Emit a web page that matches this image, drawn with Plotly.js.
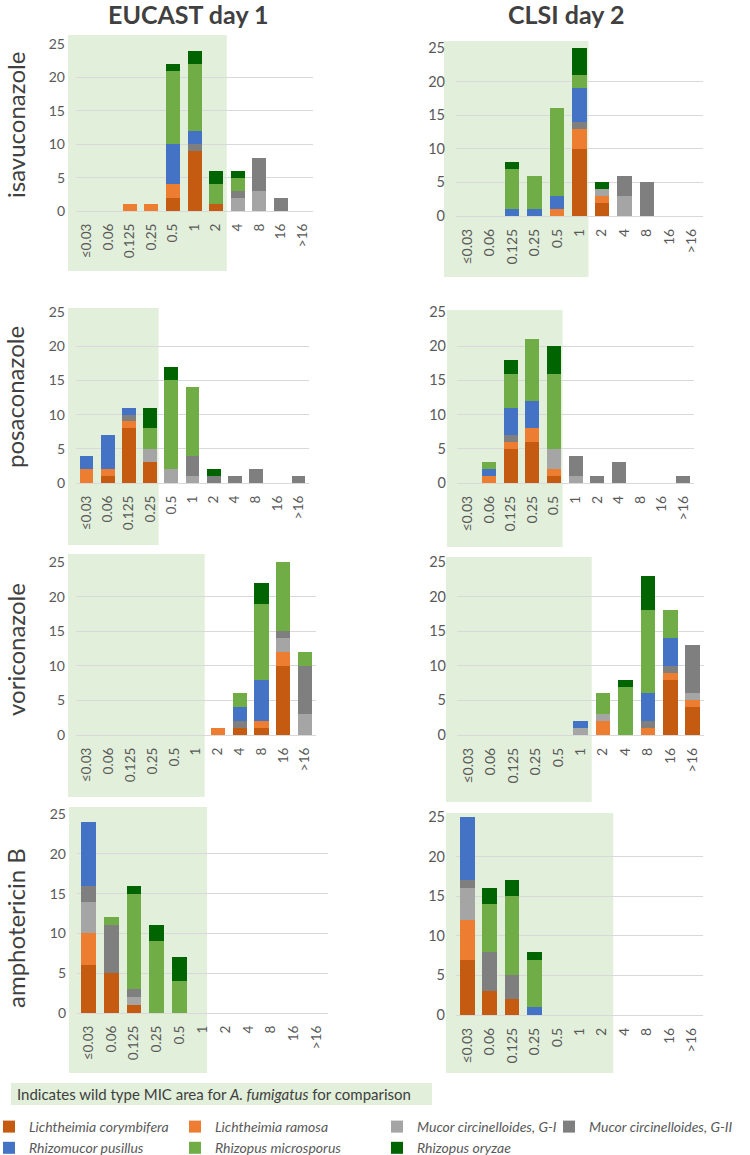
<!DOCTYPE html>
<html>
<head>
<meta charset="utf-8">
<script src="https://cdn.plot.ly/plotly-3.0.1.min.js"></script>
<style>html,body{margin:0;padding:0;background:#fff;}#chart{width:750px;height:1155px;}</style>
</head>
<body>
<div id="chart"></div>
<script>
// ---- data ----
const categories = ['≤0.03','0.06','0.125','0.25','0.5','1','2','4','8','16','>16'];
const species = ['Lichtheimia corymbifera','Lichtheimia ramosa','Mucor circinelloides, G-I','Mucor circinelloides, G-II','Rhizomucor pusillus','Rhizopus microsporus','Rhizopus oryzae'];
const speciesColors = ['#C55A11','#ED7D31','#A5A5A5','#7F7F7F','#4472C4','#70AD47','#006400'];
const columnTitles = ['EUCAST day 1','CLSI day 2'];
const drugs = ['isavuconazole','posaconazole','voriconazole','amphotericin B'];
const yTicks = [0,5,10,15,20,25];

// rows: species in order above; columns: MIC categories
const isaEucast = [
  [0,0,0,0,2,9,1,0,0,0,0],
  [0,0,1,1,2,0,0,0,0,0,0],
  [0,0,0,0,0,0,0,2,3,0,0],
  [0,0,0,0,0,1,0,1,5,2,0],
  [0,0,0,0,6,2,0,0,0,0,0],
  [0,0,0,0,11,10,3,2,0,0,0],
  [0,0,0,0,1,2,2,1,0,0,0]
];
const isaClsi = [
  [0,0,0,0,0,10,2,0,0,0,0],
  [0,0,0,0,1,3,1,0,0,0,0],
  [0,0,0,0,0,0,1,3,0,0,0],
  [0,0,0,0,0,1,0,3,5,0,0],
  [0,0,1,1,2,5,0,0,0,0,0],
  [0,0,6,5,13,2,0,0,0,0,0],
  [0,0,1,0,0,4,1,0,0,0,0]
];
const posEucast = [
  [0,1,8,3,0,0,0,0,0,0,0],
  [2,1,1,0,0,0,0,0,0,0,0],
  [0,0,0,2,2,1,0,0,0,0,0],
  [0,0,1,0,0,3,1,1,2,0,1],
  [2,5,1,0,0,0,0,0,0,0,0],
  [0,0,0,3,13,10,0,0,0,0,0],
  [0,0,0,3,2,0,1,0,0,0,0]
];
const posClsi = [
  [0,0,5,6,1,0,0,0,0,0,0],
  [0,1,1,2,1,0,0,0,0,0,0],
  [0,0,0,0,3,1,0,0,0,0,0],
  [0,0,1,0,0,3,1,3,0,0,1],
  [0,1,4,4,0,0,0,0,0,0,0],
  [0,1,5,9,11,0,0,0,0,0,0],
  [0,0,2,0,4,0,0,0,0,0,0]
];
const vorEucast = [
  [0,0,0,0,0,0,0,1,1,10,0],
  [0,0,0,0,0,0,1,0,1,2,0],
  [0,0,0,0,0,0,0,0,0,2,3],
  [0,0,0,0,0,0,0,1,0,1,7],
  [0,0,0,0,0,0,0,2,6,0,0],
  [0,0,0,0,0,0,0,2,11,10,2],
  [0,0,0,0,0,0,0,0,3,0,0]
];
const vorClsi = [
  [0,0,0,0,0,0,0,0,0,8,4],
  [0,0,0,0,0,0,2,0,1,1,1],
  [0,0,0,0,0,1,1,0,0,0,1],
  [0,0,0,0,0,0,0,0,1,1,7],
  [0,0,0,0,0,1,0,0,4,4,0],
  [0,0,0,0,0,0,3,7,12,4,0],
  [0,0,0,0,0,0,0,1,5,0,0]
];
const ampEucast = [
  [6,5,1,0,0,0,0,0,0,0,0],
  [4,0,0,0,0,0,0,0,0,0,0],
  [4,0,1,0,0,0,0,0,0,0,0],
  [2,6,1,0,0,0,0,0,0,0,0],
  [8,0,0,0,0,0,0,0,0,0,0],
  [0,1,12,9,4,0,0,0,0,0,0],
  [0,0,1,2,3,0,0,0,0,0,0]
];
const ampClsi = [
  [7,3,2,0,0,0,0,0,0,0,0],
  [5,0,0,0,0,0,0,0,0,0,0],
  [4,0,0,0,0,0,0,0,0,0,0],
  [1,5,3,0,0,0,0,0,0,0,0],
  [8,0,0,1,0,0,0,0,0,0,0],
  [0,6,10,6,0,0,0,0,0,0,0],
  [0,2,2,1,0,0,0,0,0,0,0]
];
// wild-type MIC area for A. fumigatus: right edge in category units
const wildTypeEnd = [6.5, 5.4, 3.4, 4.4, 5.4, 5.5, 5.2, 6.5];

const panelData = [isaEucast, isaClsi, posEucast, posClsi, vorEucast, vorClsi, ampEucast, ampClsi];

// ---- layout geometry (pixels) ----
const W = 750, H = 1155;
const px = v => v / W;
const py = v => 1 - v / H;
const geo = [
  {x:[76,313], y:[44,211], sh:[68,35,271]},
  {x:[456,703], y:[48,216], sh:[444,41,277]},
  {x:[76,309], y:[312,483], sh:[68,308,545]},
  {x:[457,694], y:[312,483], sh:[447,310,547]},
  {x:[76,316], y:[562,735], sh:[68,554,797]},
  {x:[457,704], y:[562,735], sh:[446,557,802]},
  {x:[77,328], y:[814,1013], sh:[69,807,1073]},
  {x:[456,703], y:[817,1015], sh:[446,813,1073]}
];
const legendOf = ['legend','legend2','legend3','legend4','legend','legend2','legend3'];

const FONT = 'Lato, "Open Sans", sans-serif';
const traces = [];
panelData.forEach((mat, p) => {
  mat.forEach((vals, s) => {
    traces.push({
      type: 'bar',
      x: categories,
      y: vals,
      name: species[s],
      marker: {color: speciesColors[s], line: {width: 0}},
      xaxis: 'x' + (p + 1),
      yaxis: 'y' + (p + 1),
      showlegend: p === 0,
      legend: legendOf[s],
      hoverinfo: 'x+y+name'
    });
  });
});

const layout = {
  width: W, height: H,
  margin: {l: 0, r: 0, t: 0, b: 0, autoexpand: false},
  paper_bgcolor: '#fff', plot_bgcolor: 'rgba(0,0,0,0)',
  barmode: 'stack', bargap: 0.35,
  font: {family: FONT, color: '#595959'},
  shapes: [], annotations: []
};

geo.forEach((g, p) => {
  const n = p + 1;
  const fs = (p % 2 === 0) ? 13.5 : 14;
  layout['xaxis' + n] = {
    domain: [px(g.x[0]), px(g.x[1])],
    anchor: 'y' + n,
    type: 'category', categoryorder: 'array', categoryarray: categories,
    range: [-0.5, categories.length - 0.5],
    tickangle: -90, ticks: '', showgrid: false, zeroline: false, showline: false,
    ticklabelstandoff: 9,
    tickfont: {family: FONT, size: fs, color: '#595959'},
    fixedrange: true
  };
  layout['yaxis' + n] = {
    domain: [py(g.y[1]), py(g.y[0])],
    anchor: 'x' + n,
    range: [0, 25], tickvals: yTicks,
    showgrid: true, gridcolor: '#D9D9D9', gridwidth: 1,
    zeroline: true, zerolinecolor: '#D9D9D9', zerolinewidth: 1,
    showline: false, ticks: '',
    ticklabelstandoff: 10,
    tickfont: {family: FONT, size: fs + 0.5, color: '#595959'},
    fixedrange: true
  };
  const dw = g.x[1] - g.x[0];
  layout.shapes.push({
    type: 'rect', layer: 'below',
    xref: 'x' + n + ' domain', yref: 'paper',
    x0: (g.sh[0] - g.x[0]) / dw,
    x1: (wildTypeEnd[p] + 0.5) / categories.length,
    y0: py(g.sh[2]), y1: py(g.sh[1]),
    fillcolor: '#E2EFDA', line: {width: 0}
  });
});

// column titles
[[188, columnTitles[0]], [566, columnTitles[1]]].forEach(([cx, t]) => {
  layout.annotations.push({
    xref: 'paper', yref: 'paper', x: px(cx), y: py(14),
    xanchor: 'center', yanchor: 'middle', showarrow: false,
    text: '<b>' + t + '</b>',
    font: {family: FONT, size: 25, color: '#404040'}
  });
});
// row labels
[125, 397, 650, 928].forEach((cy, i) => {
  layout.annotations.push({
    xref: 'paper', yref: 'paper', x: px(15), y: py(cy),
    xanchor: 'center', yanchor: 'middle', showarrow: false, textangle: -90,
    borderpad: 0,
    text: drugs[i],
    font: {family: FONT, size: 24, color: '#404040'}
  });
});
// wild-type key box
layout.shapes.push({
  type: 'rect', xref: 'paper', yref: 'paper',
  x0: px(11), x1: px(432), y0: py(1105), y1: py(1083),
  fillcolor: '#E2EFDA', line: {width: 0}
});
layout.annotations.push({
  xref: 'paper', yref: 'paper', x: px(15), y: py(1094),
  xanchor: 'left', yanchor: 'middle', showarrow: false,
  text: 'Indicates wild type MIC area for <i>A. fumigatus</i> for comparison',
  font: {family: FONT, size: 15, color: '#404040'}
});

// legends (four columns); x = text start - 41 px
const legTextStart = [30, 216, 418, 590];
['legend','legend2','legend3','legend4'].forEach((lk, i) => {
  layout[lk] = {
    orientation: 'v', traceorder: 'normal',
    x: px(legTextStart[i] - 41), xanchor: 'left',
    y: py(1111), yanchor: 'top',
    bgcolor: 'rgba(0,0,0,0)', borderwidth: 0,
    itemwidth: 30, tracegroupgap: 0,
    font: {family: FONT, size: 14, color: '#595959', style: 'italic'},
    itemclick: false, itemdoubleclick: false
  };
});

Plotly.newPlot('chart', traces, layout, {displayModeBar: false, staticPlot: true});
</script>
</body>
</html>
